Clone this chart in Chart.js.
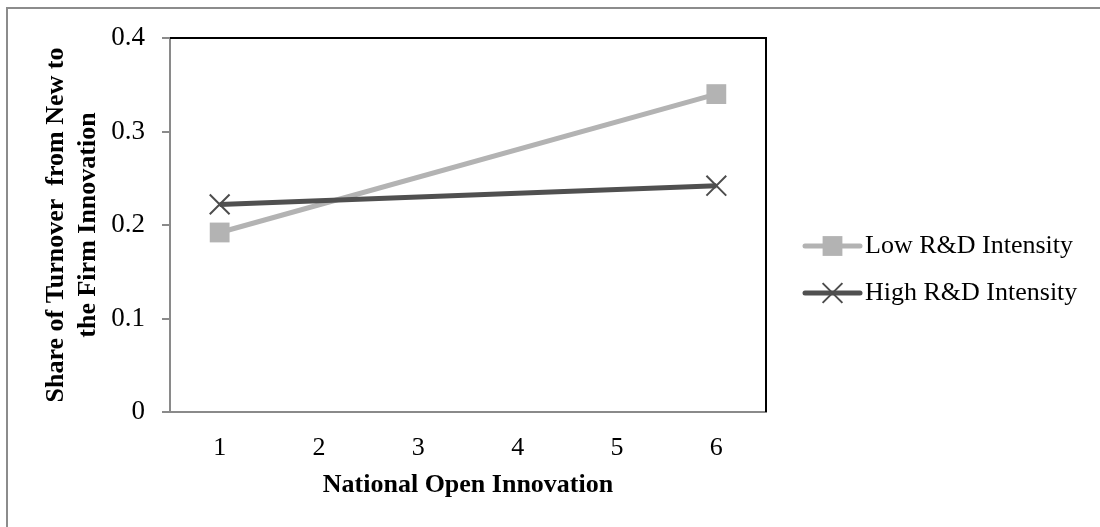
<!DOCTYPE html>
<html>
<head>
<meta charset="utf-8">
<script src="https://cdn.jsdelivr.net/npm/chart.js@4/dist/chart.umd.min.js"></script>
<style>
    html, body { margin: 0; padding: 0; background: #fff; }
    #frame { position: absolute; left: 6px; top: 7px; width: 1200px; height: 600px;
             border-top: 2px solid #8c8c8c; border-left: 2px solid #8c8c8c; }
    #wrap { position: absolute; left: 0; top: 0; width: 1100px; height: 527px; }
</style>
</head>
<body>
<div id="frame"></div>
<div id="wrap"><canvas id="chart" width="1100" height="527"></canvas></div>
<script>
const categories = ['1', '2', '3', '4', '5', '6'];
const seriesNames = ['Low R&D Intensity', 'High R&D Intensity'];
const lowRD = [0.192, null, null, null, null, 0.340];
const highRD = [0.222, null, null, null, null, 0.242];
const yTicks = [0, 0.1, 0.2, 0.3, 0.4];

const serif = '"Liberation Serif", "Times New Roman", serif';

// black frame on top/right of the plot area
const plotBorder = {
    id: 'plotBorder',
    beforeDatasetsDraw(chart) {
        const { ctx, chartArea: a } = chart;
        ctx.save();
        ctx.strokeStyle = '#000';
        ctx.lineWidth = 2;
        ctx.beginPath();
        ctx.moveTo(a.left, a.top);
        ctx.lineTo(a.right, a.top);
        ctx.lineTo(a.right, a.bottom);
        ctx.stroke();
        ctx.restore();
    }
};

// legend on the right: line with marker, then the label
const sideLegend = {
    id: 'sideLegend',
    afterDraw(chart) {
        const { ctx, chartArea: a } = chart;
        const x0 = a.right + 39, x1 = x0 + 55;
        const rows = [246, 293];
        ctx.save();
        chart.data.datasets.forEach(function(ds, i) {
            const y = rows[i];
            ctx.strokeStyle = ds.borderColor;
            ctx.lineWidth = ds.borderWidth;
            ctx.lineCap = 'round';
            ctx.beginPath();
            ctx.moveTo(x0, y);
            ctx.lineTo(x1, y);
            ctx.stroke();
            ctx.lineCap = 'butt';
            ctx.fillStyle = ds.pointBackgroundColor;
            ctx.strokeStyle = ds.pointBorderColor;
            ctx.lineWidth = ds.pointBorderWidth;
            Chart.helpers.drawPoint(ctx, {
                pointStyle: ds.pointStyle,
                radius: ds.pointRadius,
                borderWidth: ds.pointBorderWidth,
                rotation: 0
            }, (x0 + x1) / 2, y);
            ctx.fillStyle = '#000';
            ctx.font = '26px ' + serif;
            ctx.textBaseline = 'middle';
            ctx.textAlign = 'left';
            ctx.fillText(ds.label, x1 + 5, y);
        });
        ctx.restore();
    }
};

const ctx = document.getElementById('chart').getContext('2d');
new Chart(ctx, {
    type: 'line',
    data: {
        labels: categories,
        datasets: [{
            label: seriesNames[0],
            data: lowRD,
            borderColor: '#b3b3b3',
            borderWidth: 5,
            pointStyle: 'rect',
            pointRadius: 14,
            pointBackgroundColor: '#b3b3b3',
            pointBorderColor: '#b3b3b3',
            pointBorderWidth: 0,
            spanGaps: true,
            order: 2
        }, {
            label: seriesNames[1],
            data: highRD,
            borderColor: '#505050',
            borderWidth: 5,
            pointStyle: 'crossRot',
            pointRadius: 14,
            pointBackgroundColor: '#4d4d4d',
            pointBorderColor: '#4d4d4d',
            pointBorderWidth: 2,
            spanGaps: true,
            order: 1
        }]
    },
    options: {
        responsive: false,
        animation: false,
        events: [],
        layout: { padding: { top: 38, right: 334, bottom: 0, left: 0 } },
        plugins: {
            legend: { display: false },
            tooltip: { enabled: false }
        },
        scales: {
            x: {
                offset: true,
                grid: { display: false },
                border: { display: true, color: '#8a8a8a', width: 2 },
                ticks: { color: '#000', padding: 13, font: { family: serif, size: 26 } },
                title: {
                    display: true,
                    text: 'National Open Innovation',
                    color: '#000',
                    font: { family: serif, size: 26, weight: 'bold', lineHeight: 1.2 },
                    padding: { top: 0, bottom: 26 }
                },
                afterFit: function(scale) { scale.height = 115; }
            },
            y: {
                min: 0,
                max: 0.4,
                afterBuildTicks: function(scale) {
                    scale.ticks = yTicks.map(function(v) { return { value: v }; });
                },
                grid: {
                    drawOnChartArea: false,
                    drawTicks: true,
                    tickLength: 8,
                    color: '#8a8a8a',
                    lineWidth: 2
                },
                border: { display: true, color: '#8a8a8a', width: 2 },
                ticks: {
                    color: '#000',
                    padding: 17,
                    font: { family: serif, size: 27 },
                    callback: function(v) { return String(+v.toFixed(1)); }
                },
                title: {
                    display: true,
                    text: ['Share of Turnover  from New to', 'the Firm Innovation'],
                    color: '#000',
                    font: { family: serif, size: 26, weight: 'bold', lineHeight: 1.2 },
                    padding: { top: 41, bottom: 0 }
                },
                afterFit: function(scale) { scale.width = 170; }
            }
        }
    },
    plugins: [plotBorder, sideLegend]
});
</script>
</body>
</html>
